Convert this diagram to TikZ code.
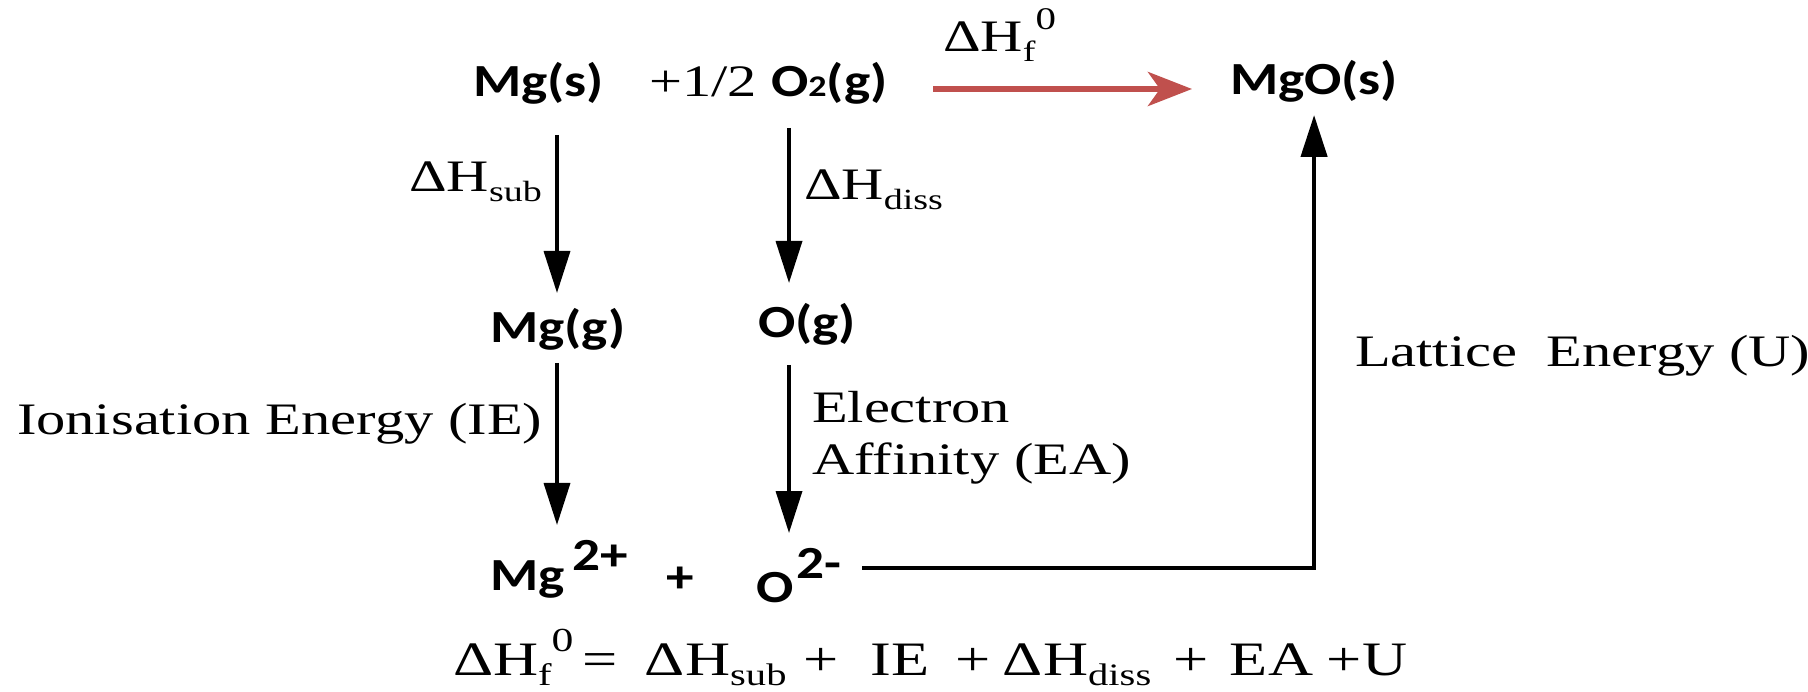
\documentclass[tikz,border=0pt]{standalone}
\usepackage{fontspec}
\usepackage{graphicx}
\setmainfont{Liberation Serif}[FakeStretch=1.3]
\newfontfamily\chemfont{Carlito}[FakeStretch=1.2]
\usetikzlibrary{arrows.meta}
\definecolor{arrowred}{HTML}{C0504D}
\newcommand\lsub[1]{\raisebox{-0.22em}{\scalebox{0.65}{#1}}}
\newcommand\lsup[1]{\raisebox{0.5em}{\scalebox{0.7}{#1}}}
\begin{document}
\begin{tikzpicture}[x=1pt,y=-1pt,
  lbl/.style={font=\fontsize{45}{52}\selectfont, inner sep=0pt, outer sep=0pt},
  eqlbl/.style={font=\fontsize{48}{48}\selectfont, inner sep=0pt, outer sep=0pt},
  chem/.style={font=\chemfont\bfseries\fontsize{46}{46}\selectfont, inner sep=0pt, outer sep=0pt},
  arr/.style={line width=3.5pt, -{Triangle[length=42pt,width=26pt]}},
  latt/.style={line width=4.5pt, -{Triangle[length=42pt,width=26pt]}},
  redarr/.style={draw=arrowred, line width=6pt, -{Stealth[length=44pt,width=34pt,inset=12pt]}}]
\useasboundingbox (0,0) rectangle (1808,692);
\coordinate (colMg) at (557,0);
\coordinate (colO) at (789,0);
% row 1
\node[chem, anchor=base west, text depth=38pt] (mgs) at (473,97) {Mg(s)};
\node[lbl, anchor=base west] (half) at (649,97) {+1/2};
\node[chem, anchor=base west, text height=47pt, text depth=31pt] (o2g) at (771,97) {O{\fontsize{30}{30}\selectfont 2}(g)};
\node[chem, anchor=base west, text height=32pt, text depth=20pt] (mgo) at (1230,95) {MgO(s)};
\node[lbl, anchor=base west] (dhf) at (943,52) {ΔH\lsub{f}\lsup{0}};
\draw[redarr, shorten <=46pt, shorten >=38pt] (o2g.east) -- (mgo.west);
% row 2
\node[chem, anchor=base west, text height=50pt, text depth=20pt] (mgg) at (490,343) {Mg(g)};
\node[chem, anchor=base west, text height=55pt, text depth=27pt] (og) at (758,338) {O(g)};
\draw[arr] (mgs.south -| colMg) -- (mgg.north -| colMg);
\draw[arr] (o2g.south -| colO) -- (og.north -| colO);
\node[lbl, anchor=base east] (dhsub) at (542,192) {ΔH\lsub{sub}};
\node[lbl, anchor=base west] (dhdiss) at (804,200) {ΔH\lsub{diss}};
% row 3
\node[chem, anchor=base west, text height=65pt] (mg2) at (490,590) {Mg\hspace{8pt}\raisebox{20pt}{2+}};
\node[chem, anchor=base west] (plus) at (666,592) {+};
\node[chem, anchor=base west, text height=69pt, text depth=1pt] (o2m) at (756,602) {O\hspace{3pt}\raisebox{24pt}{2-}};
\draw[arr] (mgg.south -| colMg) -- (mg2.north -| colMg);
\draw[arr] (og.south -| colO) -- (o2m.north -| colO);
\draw[latt] ([xshift=21pt]o2m.east) -| (mgo.south);
% labels
\node[lbl, anchor=base west] (ie) at (17,435) {Ionisation Energy (IE)};
\node[lbl, anchor=north west, align=left] (ea) at (812,391) {Electron\\Affinity (EA)};
\node[lbl, anchor=base west] (lat) at (1355,367) {Lattice\ \ Energy (U)};
% equation
\node[eqlbl, anchor=base west] (eq) at (453,675) {\rlap{ΔH\lsub{f}\lsup{0}}\hspace{129pt}\rlap{=}\hspace{63pt}\rlap{ΔH\lsub{sub}}\hspace{158pt}\rlap{+}\hspace{68pt}\rlap{IE}\hspace{84pt}\rlap{+}\hspace{48pt}\rlap{ΔH\lsub{diss}}\hspace{170pt}\rlap{+}\hspace{57pt}\rlap{EA}\hspace{97pt}+U};
\end{tikzpicture}
\end{document}
